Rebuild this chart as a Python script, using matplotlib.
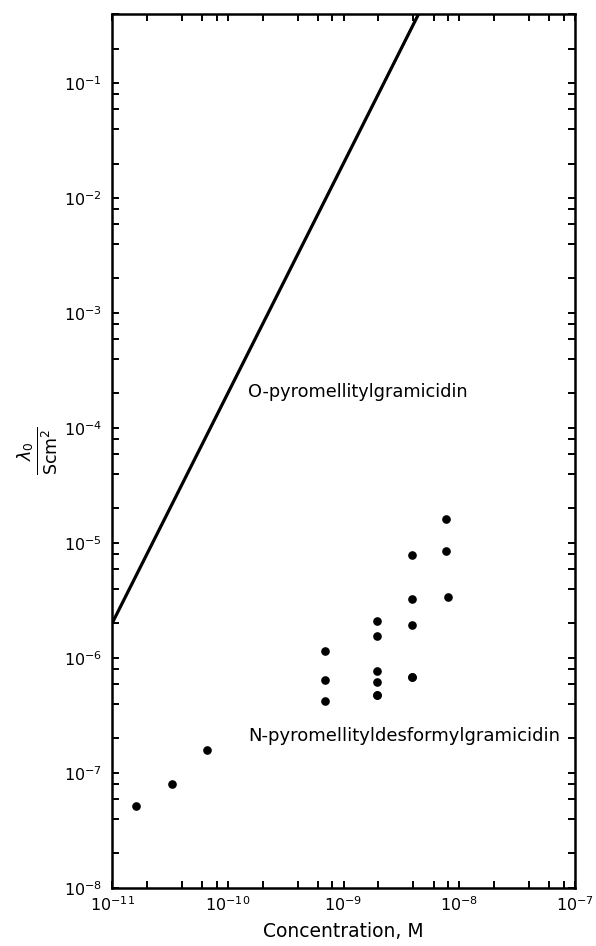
import matplotlib.pyplot as plt
from matplotlib.ticker import LogLocator, NullFormatter

# O-pyromellitylgramicidin: straight line (slope 2 on log-log)
line_c = [1e-11, 4.45e-9]
line_lam = [2.0e-6, 4.0e-1]

# N-pyromellityldesformylgramicidin: measured points
conc = [1.6e-11, 3.3e-11, 6.6e-11,
        6.9e-10, 6.9e-10, 6.9e-10,
        1.95e-9, 1.95e-9, 1.95e-9, 1.95e-9, 1.95e-9, 1.95e-9,
        3.9e-9, 3.9e-9, 3.9e-9, 3.9e-9, 3.9e-9,
        7.6e-9, 7.6e-9, 7.9e-9]
lam = [5.2e-8, 8.0e-8, 1.6e-7,
       1.16e-6, 6.5e-7, 4.2e-7,
       2.12e-6, 1.54e-6, 7.7e-7, 6.2e-7, 4.8e-7, 4.8e-7,
       7.9e-6, 3.26e-6, 1.94e-6, 6.8e-7, 6.8e-7,
       1.62e-5, 8.6e-6, 3.38e-6]

fig = plt.figure(figsize=(5.96, 9.46), dpi=100)
ax = fig.add_axes([0.188, 0.0613, 0.777, 0.924])

ax.plot(line_c, line_lam, color='black', lw=2.3, solid_capstyle='butt')
ax.plot(conc, lam, 'o', color='black', ms=5.2)

ax.set_xscale('log')
ax.set_yscale('log')
ax.set_xlim(1e-11, 1e-7)
ax.set_ylim(1e-8, 4e-1)

for axis in (ax.xaxis, ax.yaxis):
    axis.set_major_locator(LogLocator(base=10, numticks=20))
    axis.set_minor_locator(LogLocator(base=10, subs=(2, 4, 6, 8), numticks=20))
    axis.set_minor_formatter(NullFormatter())

ax.tick_params(which='both', direction='in', top=True, right=True,
               length=5, width=1.4, labelsize=11.5, pad=5)
ax.tick_params(axis='y', pad=7)
for s in ax.spines.values():
    s.set_linewidth(1.8)

ax.text(1.5e-10, 2.05e-4, 'O-pyromellitylgramicidin', fontsize=12.8,
        ha='left', va='center')
ax.text(1.5e-10, 2.1e-7, 'N-pyromellityldesformylgramicidin', fontsize=13,
        ha='left', va='center')

ax.set_xlabel('Concentration, M', fontsize=13.5, labelpad=6)
ax.set_ylabel(r'$\frac{\lambda_0}{\mathrm{Scm}^2}$', fontsize=18, labelpad=2)

fig.savefig('out.png', dpi=100)
